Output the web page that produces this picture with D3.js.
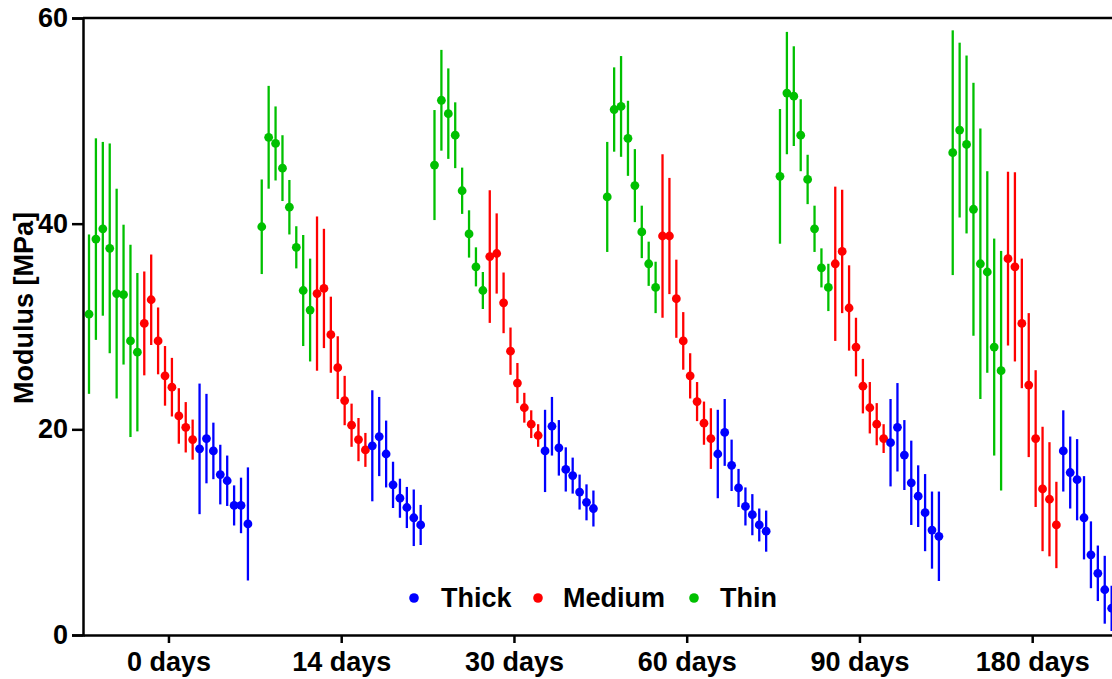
<!DOCTYPE html>
<html>
<head>
<meta charset="utf-8">
<script src="https://cdn.jsdelivr.net/npm/d3@7"></script>
<style>
  html, body { margin: 0; padding: 0; background: #fff; }
  svg { display: block; font-family: "Liberation Sans", Arial, sans-serif; }
</style>
</head>
<body>
<svg id="chart" width="1112" height="679"></svg>
<script>
const categories = ["0 days", "14 days", "30 days", "60 days", "90 days", "180 days"];
const seriesNames = ["Thick", "Medium", "Thin"];
const yTicks = [0, 20, 40, 60];

// Thin (green) means and SD per time point
const thinMean = [
  [31.2, 38.5, 39.5, 37.6, 33.2, 33.1, 28.6, 27.5],
  [39.7, 48.4, 47.8, 45.4, 41.6, 37.7, 33.5, 31.6],
  [45.7, 52.0, 50.7, 48.6, 43.2, 39.0, 35.8, 33.5],
  [42.6, 51.1, 51.4, 48.3, 43.7, 39.2, 36.1, 33.8],
  [44.6, 52.7, 52.4, 48.6, 44.3, 39.5, 35.7, 33.8],
  [46.9, 49.1, 47.7, 41.4, 36.1, 35.3, 28.0, 25.7]
];
const thinSD = [
  [7.75, 9.8, 8.45, 10.2, 10.2, 6.8, 9.35, 7.7],
  [4.6, 5.0, 3.6, 3.2, 2.65, 2.05, 5.4, 5.0],
  [5.35, 4.9, 4.4, 3.2, 2.25, 2.3, 1.9, 1.8],
  [5.35, 4.1, 4.9, 3.65, 3.55, 2.55, 2.15, 2.5],
  [6.55, 5.95, 4.85, 3.5, 2.4, 2.25, 1.9, 2.3],
  [11.9, 8.5, 8.65, 12.3, 13.15, 9.8, 10.55, 11.65]
];
// Medium (red)
const mediumMean = [
  [30.3, 32.6, 28.6, 25.2, 24.1, 21.3, 20.2, 19.0],
  [33.2, 33.7, 29.2, 26.0, 22.8, 20.4, 19.0, 18.0],
  [36.8, 37.1, 32.3, 27.6, 24.5, 22.1, 20.5, 19.4],
  [38.8, 38.8, 32.7, 28.6, 25.2, 22.7, 20.6, 19.1],
  [36.1, 37.3, 31.8, 28.0, 24.2, 22.1, 20.5, 19.1],
  [36.6, 35.8, 30.3, 24.3, 19.1, 14.2, 13.2, 10.7]
];
const mediumSD = [
  [5.05, 4.4, 3.25, 2.9, 2.85, 2.7, 2.45, 1.95],
  [7.5, 5.8, 3.7, 3.05, 2.4, 2.1, 2.1, 1.65],
  [6.45, 3.9, 2.95, 2.3, 1.95, 1.45, 1.35, 1.1],
  [7.95, 5.65, 3.8, 2.8, 2.2, 1.9, 2.1, 2.95],
  [7.5, 6.0, 4.15, 2.85, 2.65, 2.5, 2.05, 1.4],
  [8.45, 9.2, 6.3, 7.0, 6.65, 6.05, 5.55, 4.2]
];
// Thick (blue)
const thickMean = [
  [18.1, 19.1, 17.9, 15.6, 15.0, 12.6, 12.6, 10.8],
  [18.4, 19.3, 17.6, 14.6, 13.3, 12.4, 11.4, 10.7],
  [17.9, 20.3, 18.2, 16.1, 15.5, 13.9, 12.9, 12.3],
  [17.6, 19.7, 16.5, 14.3, 12.5, 11.7, 10.7, 10.1],
  [18.7, 20.2, 17.5, 14.8, 13.5, 11.9, 10.2, 9.6],
  [17.9, 15.8, 15.1, 11.4, 7.8, 6.0, 4.4, 2.6]
];
const thickSD = [
  [6.35, 4.35, 2.75, 2.9, 2.45, 1.95, 2.7, 5.5],
  [5.4, 3.85, 3.25, 2.25, 1.9, 2.0, 2.75, 1.95],
  [4.0, 2.85, 2.7, 2.15, 1.75, 1.7, 1.75, 1.75],
  [4.3, 3.25, 2.5, 1.85, 1.85, 2.0, 1.6, 2.0],
  [4.25, 4.3, 3.4, 4.1, 3.0, 3.75, 3.75, 4.35],
  [3.95, 3.5, 3.95, 4.05, 3.25, 2.7, 3.3, 2.2]
];

const colors = { Thick: "#0000ff", Medium: "#ff0000", Thin: "#00c000" };

// Build point table: within each time group the order is Thin, Medium, Thick
const perSeries = 8, slotsPerGroup = 25;
const points = [];
categories.forEach((cat, g) => {
  [["Thin", thinMean, thinSD], ["Medium", mediumMean, mediumSD], ["Thick", thickMean, thickSD]]
    .forEach(([name, means, sds], k) => {
      means[g].forEach((m, i) => {
        points.push({ series: name, slot: g * slotsPerGroup + k * perSeries + i, mean: m, sd: sds[g][i] });
      });
    });
});

const svg = d3.select("#chart");
const mLeft = 83, mTop = 18, mBottom = 635, mRight = 1112;
const font = "'Liberation Sans', Arial, sans-serif";
const fs = 27;

const x = d3.scaleLinear().domain([-0.868, 148.05]).range([mLeft, mRight]);
const y = d3.scaleLinear().domain([0, 60]).range([mBottom, mTop]);

// error bars
svg.append("g").selectAll("line").data(points).join("line")
  .attr("x1", d => x(d.slot)).attr("x2", d => x(d.slot))
  .attr("y1", d => y(d.mean - d.sd)).attr("y2", d => y(d.mean + d.sd))
  .attr("stroke", d => colors[d.series]).attr("stroke-width", 2.3);

// points
svg.append("g").selectAll("circle").data(points).join("circle")
  .attr("cx", d => x(d.slot)).attr("cy", d => y(d.mean))
  .attr("r", 4.4).attr("fill", d => colors[d.series]);

// top frame line
svg.append("line").attr("x1", mLeft).attr("x2", mRight).attr("y1", mTop).attr("y2", mTop)
  .attr("stroke", "#000").attr("stroke-width", 2.5);

// y axis
const yAxis = svg.append("g").attr("transform", `translate(${mLeft},0)`)
  .call(d3.axisLeft(y).tickValues(yTicks).tickSize(11).tickPadding(4));
yAxis.select(".domain").attr("stroke-width", 2.5);
yAxis.selectAll(".tick line").attr("stroke-width", 2.5);
yAxis.selectAll("text").attr("font-size", fs).attr("font-weight", "bold").attr("fill", "#000")
  .attr("font-family", font);

// x axis
const catTicks = categories.map((c, g) => g * slotsPerGroup + 11.5);
const xAxis = svg.append("g").attr("transform", `translate(0,${mBottom})`)
  .call(d3.axisBottom(x).tickValues(catTicks).tickFormat((d, i) => categories[i]).tickSize(8).tickPadding(9)
    .tickSizeOuter(0));
xAxis.select(".domain").attr("stroke-width", 2.5);
xAxis.selectAll(".tick line").attr("stroke-width", 2.5);
xAxis.selectAll("text").attr("font-size", fs).attr("font-weight", "bold").attr("fill", "#000")
  .attr("font-family", font);

// y label
svg.append("text")
  .attr("transform", `translate(33,308) rotate(-90)`)
  .attr("text-anchor", "middle")
  .attr("font-size", fs).attr("font-weight", "bold").attr("font-family", font)
  .text("Modulus [MPa]");

// legend
const legendPos = [{ dx: 414, tx: 441 }, { dx: 538, tx: 563 }, { dx: 694, tx: 720 }];
const legend = svg.append("g");
seriesNames.forEach((s, i) => {
  legend.append("circle").attr("cx", legendPos[i].dx).attr("cy", 598).attr("r", 4.8).attr("fill", colors[s]);
  legend.append("text").attr("x", legendPos[i].tx).attr("y", 598).attr("dy", "0.35em")
    .attr("font-size", fs).attr("font-weight", "bold").attr("font-family", font).text(s);
});
</script>
</body>
</html>
